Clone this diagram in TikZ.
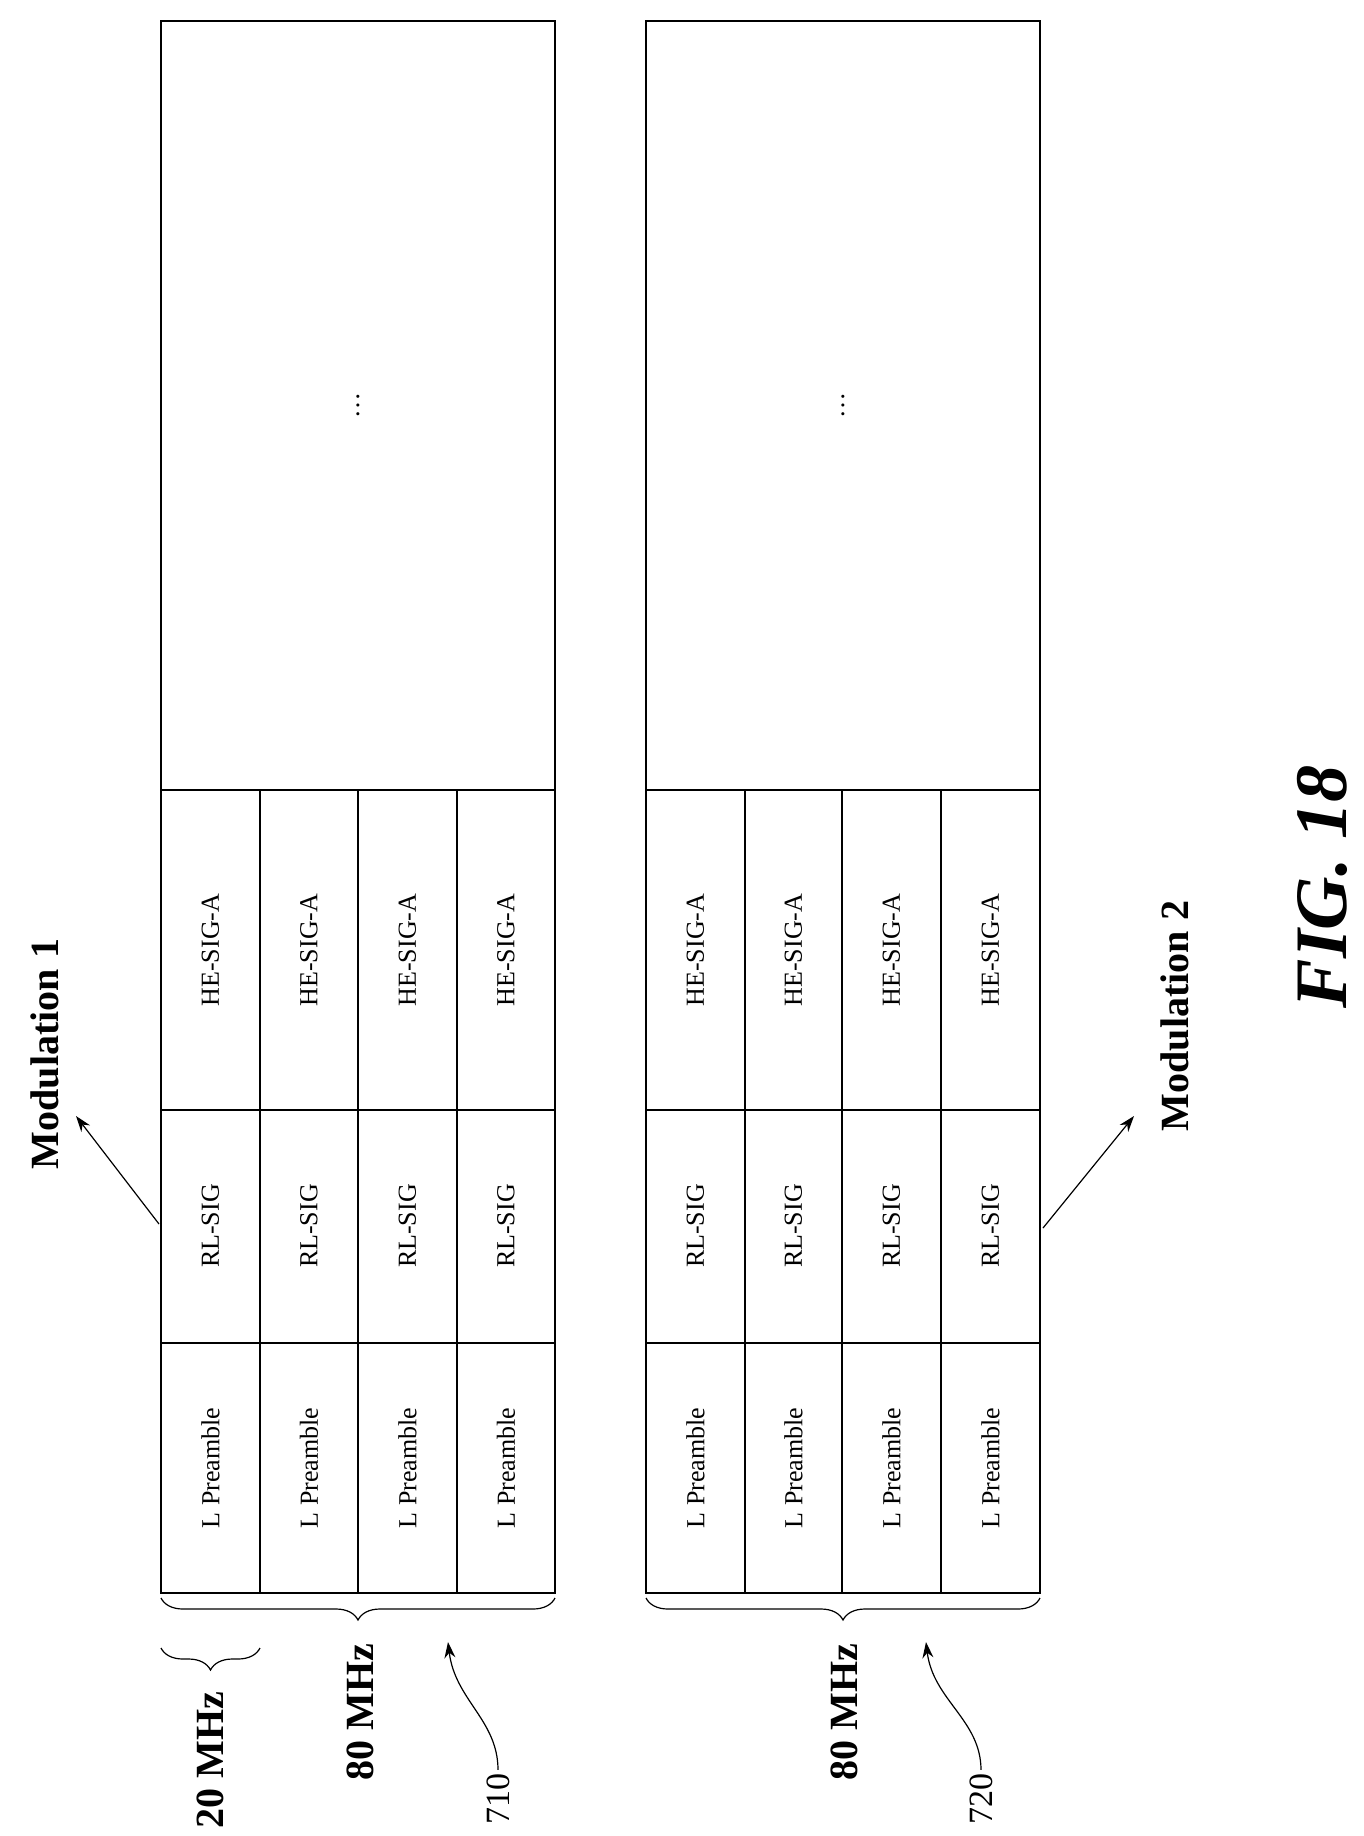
\documentclass[tikz,border=0pt]{standalone}
\usepackage{fontspec}
\setmainfont{Liberation Serif}
\usetikzlibrary{decorations.pathreplacing,arrows.meta}
\begin{document}
\begin{tikzpicture}[x=1pt,y=-1pt,
  celltxt/.style={rotate=90,font=\fontsize{26}{26}\selectfont},
  lbl/.style={rotate=90,font=\bfseries\fontsize{40}{40}\selectfont},
  num/.style={rotate=90,font=\fontsize{34}{34}\selectfont,anchor=west},
  br/.style={decorate,decoration={brace,amplitude=22pt},line width=1.2pt},
  arr/.style={-{Stealth[length=16pt,width=11pt]},line width=1.2pt}]
\useasboundingbox (0,0) rectangle (1363,1836);
% box 1
\foreach \i/\xa/\xb in {1/161/260,2/260/358,3/358/457,4/457/555}{
  \draw[line width=1.2pt] (\xa,790) rectangle (\xb,1110);
  \draw[line width=1.2pt] (\xa,1110) rectangle (\xb,1343);
  \draw[line width=1.2pt] (\xa,1343) rectangle (\xb,1593);
  \node[celltxt] (ha\i) at ({(\xa+\xb)/2},950) {HE-SIG-A};
  \node[celltxt] (ra\i) at ({(\xa+\xb)/2},1226) {RL-SIG};
  \node[celltxt] (la\i) at ({(\xa+\xb)/2},1468) {L Preamble};
}
\draw[line width=1.2pt] (161,21) rectangle (555,790);
\node[celltxt] (da) at (358,405) {\dots};
% box 2
\foreach \i/\xa/\xb in {1/646/745,2/745/842,3/842/941,4/941/1040}{
  \draw[line width=1.2pt] (\xa,790) rectangle (\xb,1110);
  \draw[line width=1.2pt] (\xa,1110) rectangle (\xb,1343);
  \draw[line width=1.2pt] (\xa,1343) rectangle (\xb,1593);
  \node[celltxt] (hb\i) at ({(\xa+\xb)/2},950) {HE-SIG-A};
  \node[celltxt] (rb\i) at ({(\xa+\xb)/2},1226) {RL-SIG};
  \node[celltxt] (lb\i) at ({(\xa+\xb)/2},1468) {L Preamble};
}
\draw[line width=1.2pt] (646,21) rectangle (1040,790);
\node[celltxt] (db) at (843,405) {\dots};
% braces
\draw[br] (555,1598) -- (161,1598);
\draw[br] (260,1648) -- (161,1648);
\draw[br] (1040,1598) -- (646,1598);
% labels
\node[lbl] (m20) at (210,1760) {20 MHz};
\node[lbl] (m80a) at (360,1712) {80 MHz};
\node[lbl] (m80b) at (844,1712) {80 MHz};
\node[num] (n710) at (498,1828) {710};
\node[num] (n720) at (981,1828) {720};
\coordinate (t710) at (448,1642);
\coordinate (t720) at (926,1642);
\draw[arr] (n710.east) .. controls (498,1720) and (455,1700) .. (t710);
\draw[arr] (n720.east) .. controls (981,1720) and (933,1700) .. (t720);
\node[lbl] (mod1) at (45,1054) {Modulation 1};
\node[lbl] (mod2) at (1175,1016) {Modulation 2};
\coordinate (s1) at (159,1224);
\coordinate (s2) at (1043,1228);
\draw[arr] (s1) -- (76,1116);
\draw[arr] (s2) -- (1134,1116);
\node[rotate=90,font=\bfseries\itshape\fontsize{74}{74}\selectfont] (fig) at (1322,887) {FIG. 18};
\end{tikzpicture}
\end{document}
